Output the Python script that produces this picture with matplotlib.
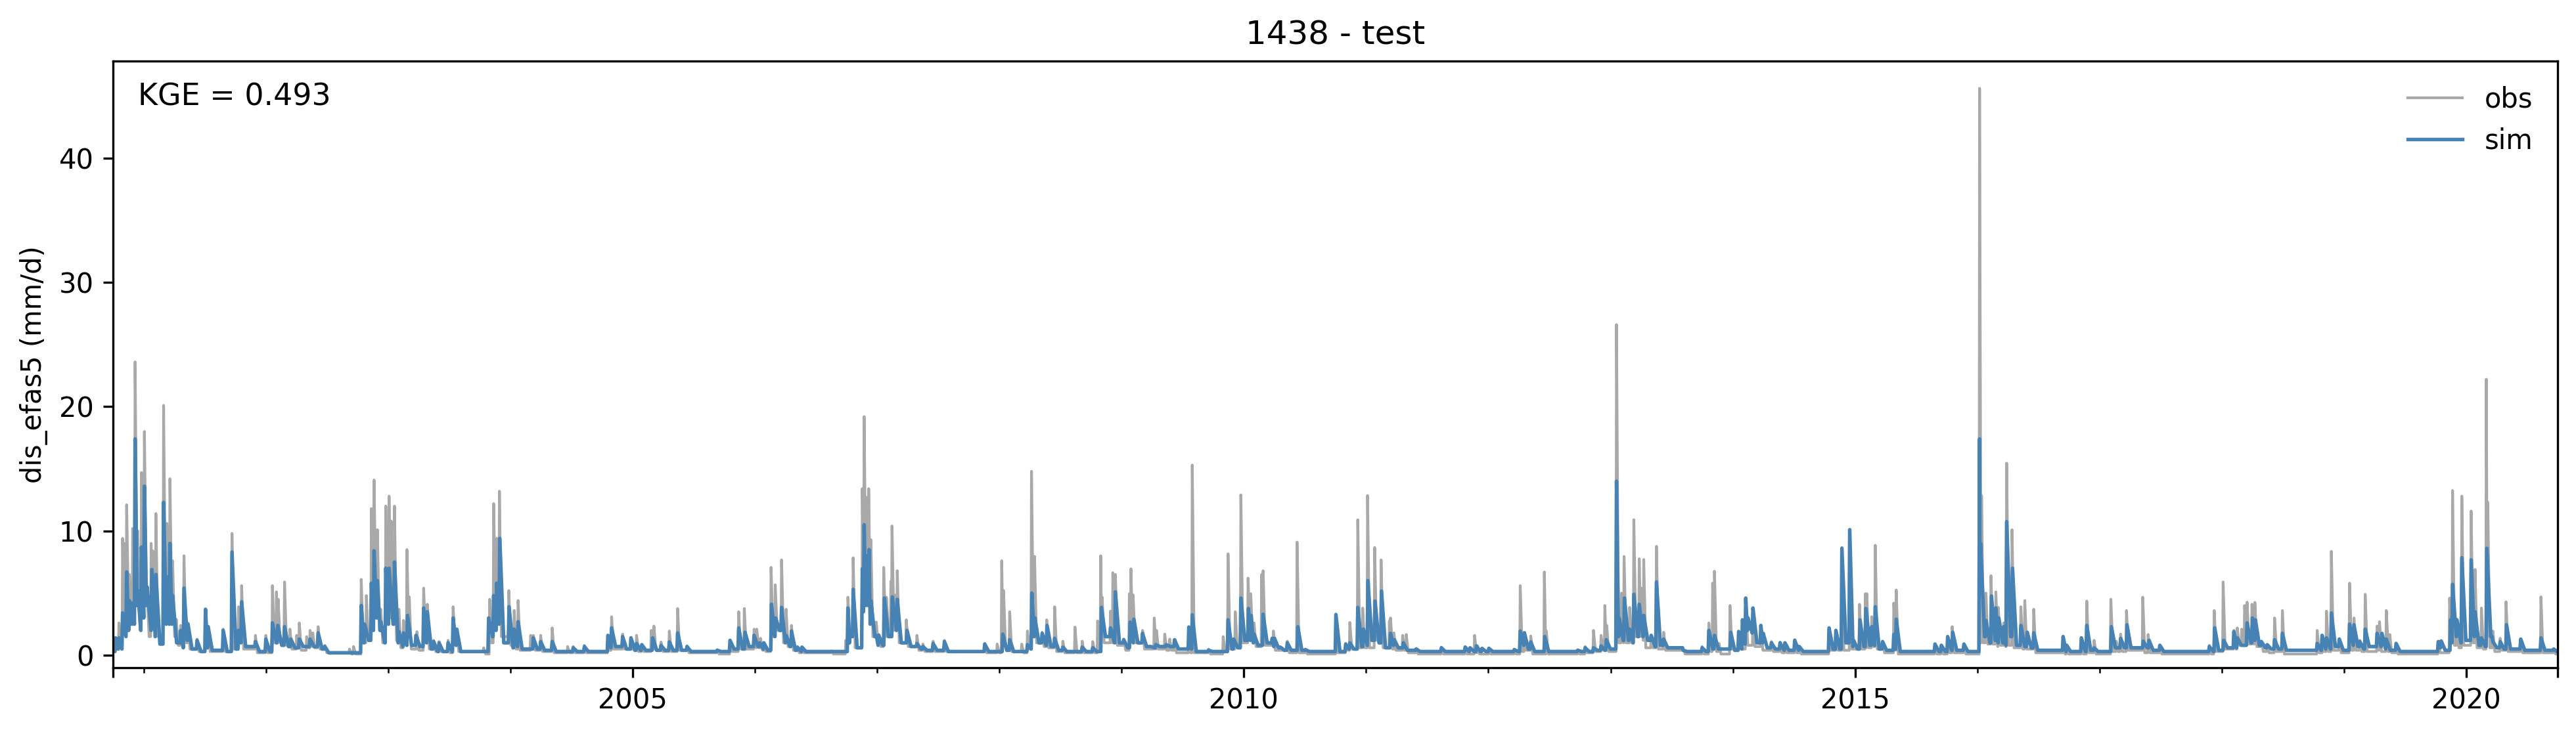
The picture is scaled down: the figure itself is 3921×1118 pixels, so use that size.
import matplotlib
matplotlib.use("Agg")
import matplotlib.pyplot as plt
import matplotlib.dates as mdates
import pandas as pd

# ---- values: time of each flow peak (decimal year), its height, level after it ----
obs_years = [2000.75,2000.77,2000.797,2000.827,2000.841,2000.86,2000.882,2000.909,2000.929,2000.951,2000.981,2001.005,2001.027,2001.06,2001.074,2001.099,2001.162,2001.189,2001.214,2001.236,2001.266,2001.302,2001.329,2001.362,2001.436,2001.505,2001.527,2001.65,2001.722,2001.776,2001.801,2001.914,2001.999,
 2002.053,2002.086,2002.1,2002.152,2002.196,2002.251,2002.273,2002.333,2002.361,2002.383,2002.427,2002.482,2002.684,2002.717,2002.78,2002.822,2002.863,2002.885,2002.912,2002.94,2002.981,2003.008,2003.025,2003.052,2003.088,2003.126,2003.154,2003.173,2003.236,2003.291,2003.321,2003.373,2003.417,2003.491,2003.532,2003.562,2003.782,2003.831,2003.864,2003.889,2003.911,2003.988,2004.032,2004.064,2004.166,2004.188,2004.248,2004.342,2004.468,2004.514,2004.605,2004.797,2004.827,2004.917,
 2005.031,2005.074,2005.151,2005.173,2005.231,2005.299,2005.367,2005.444,2005.691,2005.796,2005.867,2005.913,2005.993,2006.015,2006.046,2006.073,2006.132,2006.166,2006.218,2006.255,2006.299,2006.348,2006.385,2006.626,2006.743,2006.761,2006.804,2006.879,2006.894,2006.912,2006.931,2006.949,2006.993,2007.014,2007.054,2007.076,2007.113,2007.122,2007.144,2007.165,2007.239,2007.326,2007.375,2007.458,2007.551,2007.881,2007.983,2008.02,2008.035,2008.085,2008.183,2008.23,2008.263,2008.288,2008.35,2008.387,2008.452,2008.519,2008.618,2008.677,2008.763,2008.803,2008.828,2008.84,2008.908,2008.927,2008.948,2009.016,2009.062,2009.075,2009.093,2009.17,2009.266,2009.284,2009.352,2009.392,2009.432,2009.549,2009.577,2009.71,
 2009.83,2009.87,2009.929,2009.975,2010.034,2010.056,2010.083,2010.145,2010.157,2010.241,2010.355,2010.435,2010.503,2010.753,2010.833,2010.867,2010.932,2010.972,2011.012,2011.07,2011.123,2011.191,2011.2,2011.228,2011.299,2011.329,2011.41,2011.616,2011.811,2011.888,2011.912,2012.005,2012.212,2012.261,2012.295,2012.347,2012.458,2012.474,2012.73,2012.791,2012.859,2012.921,2012.952,2012.967,2013.047,2013.088,2013.109,2013.155,2013.189,2013.233,2013.251,2013.27,2013.331,2013.374,2013.433,2013.593,2013.748,2013.803,2013.834,2013.849,2013.886,2013.976,2014.047,2014.105,2014.164,2014.229,2014.315,2014.386,2014.426,2014.506,2014.543,
 2014.787,2014.843,2014.892,2014.956,2015.036,2015.084,2015.096,2015.136,2015.165,2015.225,2015.317,2015.337,2015.654,2015.706,2015.758,2015.795,2015.891,2016.019,2016.035,2016.071,2016.112,2016.152,2016.172,2016.216,2016.24,2016.284,2016.356,2016.388,2016.461,2016.701,2016.73,2016.85,2016.894,2016.954,2017.091,2017.135,2017.171,2017.219,2017.352,2017.396,2017.492,2017.897,2017.937,2018.01,2018.098,2018.126,2018.162,2018.186,2018.206,2018.246,2018.27,2018.323,2018.371,2018.431,2018.495,2018.78,2018.824,2018.856,2018.896,2018.961,2019.045,2019.081,2019.129,2019.173,2019.27,2019.29,2019.346,2019.374,2019.426,2019.771,2019.864,2019.888,2019.924,2019.964,2020.04,2020.072,2020.124,2020.164,2020.176,2020.217,2020.277,2020.325,2020.445,2020.61,2020.714,2020.747]
obs_peak = [0.3,1.0,2.6,9.4,9.0,12.1,6.5,10.2,23.6,10.0,14.7,18.0,5.0,9.0,8.4,11.4,20.1,10.6,14.2,7.6,2.9,2.4,8.0,2.6,1.3,3.7,2.3,2.1,9.8,3.9,5.6,1.6,1.6,
 5.6,5.1,4.5,5.9,2.1,1.6,2.6,1.5,2.0,1.8,2.3,0.8,0.5,0.7,6.1,4.8,11.8,14.1,10.1,3.7,12.0,12.8,10.8,12.0,3.7,2.8,8.5,4.7,1.9,5.4,4.1,1.2,1.1,1.2,3.9,2.1,0.6,4.5,12.2,9.4,13.2,5.2,3.6,4.4,1.6,1.6,1.6,2.2,0.7,0.7,0.8,1.6,3.1,1.7,
 1.6,0.85,2.0,2.35,1.07,1.95,3.76,0.76,0.45,1.2,3.5,3.76,2.1,2.1,1.36,1.0,7.07,5.67,7.67,3.7,2.4,0.67,0.67,0.35,1.2,4.67,7.84,13.4,19.2,12.7,13.4,9.3,2.67,1.67,7.07,4.67,5.95,10.4,4.85,6.8,2.85,1.6,0.9,1.13,1.2,0.95,0.9,7.6,5.2,3.5,0.9,1.95,14.8,7.95,1.85,2.85,3.9,1.13,2.27,1.13,1.1,2.76,8.0,4.67,3.55,6.64,6.5,1.3,4.95,6.95,4.85,2.0,3.0,2.0,1.7,1.3,1.2,2.27,15.3,0.5,
 1.5,8.16,3.5,12.9,6.2,4.95,2.6,6.5,6.8,1.95,1.13,9.1,0.5,3.3,0.95,2.64,10.9,3.8,12.85,8.67,7.67,2.76,3.0,1.8,1.6,1.67,0.55,0.65,0.7,1.6,0.75,0.6,0.5,5.6,1.85,1.55,6.7,1.95,0.45,0.7,2.0,1.6,4.0,2.4,26.6,5.0,7.95,3.85,10.9,7.76,5.4,7.7,1.6,8.76,1.85,0.5,0.7,2.6,5.8,6.76,0.95,4.0,1.95,4.6,3.8,2.4,1.1,1.05,1.0,1.25,0.7,
 2.2,2.0,8.67,10.1,4.1,4.95,4.95,3.1,8.85,1.1,4.2,5.25,0.9,0.8,1.5,2.3,0.9,45.6,12.85,5.0,6.4,5.1,3.85,2.6,15.45,10.1,3.9,4.4,3.7,1.5,0.8,1.4,4.36,1.2,4.5,1.13,1.7,3.6,4.67,1.67,0.8,0.8,3.6,5.9,2.0,2.2,2.1,4.0,4.27,4.1,4.25,1.13,0.85,3.0,3.6,2.0,1.6,3.55,8.36,1.3,5.8,3.0,1.2,4.9,2.35,2.7,3.6,1.67,0.95,1.1,4.6,13.25,2.85,12.8,11.6,6.9,3.8,22.2,12.3,1.95,1.36,4.3,1.3,4.7,0.5,0.3]
obs_after = [0.3,0.5,1.2,2.5,3.0,3.0,2.5,3.0,5.0,2.5,5.0,5.0,1.5,3.0,2.0,1.5,3.0,2.5,3.0,1.5,0.8,1.0,1.0,0.5,0.3,0.6,0.3,0.3,0.5,1.5,0.5,0.2,0.2,
 1.0,1.2,1.0,0.8,0.5,0.6,0.4,0.6,0.7,0.6,0.5,0.2,0.1,0.1,1.0,1.2,3.0,3.0,2.0,1.0,3.0,3.0,2.5,1.2,0.6,0.8,1.5,0.5,0.4,1.0,0.5,0.3,0.3,0.2,1.0,0.3,0.1,1.0,2.5,3.0,1.5,0.8,0.5,0.4,0.5,0.4,0.3,0.2,0.2,0.2,0.2,0.4,0.5,0.5,
 0.3,0.3,0.5,0.4,0.3,0.3,0.4,0.2,0.1,0.3,0.5,0.5,0.6,0.6,0.4,0.3,1.5,2.0,1.0,0.7,0.4,0.2,0.2,0.1,0.8,1.5,0.6,5.0,5.0,4.0,3.0,1.5,0.8,0.7,1.5,2.0,2.0,2.0,2.0,1.0,0.7,0.4,0.3,0.3,0.3,0.2,0.2,0.9,0.7,0.3,0.2,0.5,1.5,1.0,0.7,0.6,0.3,0.2,0.2,0.2,0.2,0.5,1.5,1.0,1.0,1.5,0.8,0.4,1.0,1.5,1.0,0.5,0.5,0.5,0.4,0.4,0.2,0.2,0.2,0.1,
 0.3,0.5,0.6,1.0,1.2,1.0,0.7,1.0,0.8,0.4,0.2,0.2,0.1,0.2,0.4,0.5,0.6,0.6,0.6,1.2,0.6,0.6,0.5,0.4,0.4,0.2,0.1,0.1,0.1,0.2,0.1,0.1,0.1,0.3,0.4,0.1,0.1,0.1,0.1,0.2,0.3,0.4,0.5,0.3,1.0,1.0,1.0,1.0,1.5,1.5,1.2,0.6,0.6,0.5,0.4,0.1,0.1,0.3,0.5,0.3,0.1,0.5,0.5,0.8,0.7,0.4,0.3,0.2,0.2,0.2,0.1,
 0.4,0.4,0.4,0.5,0.5,0.6,0.6,0.7,0.5,0.2,0.4,0.1,0.1,0.1,0.2,0.2,0.1,1.0,1.0,0.9,0.9,0.7,0.8,0.7,0.8,0.6,0.5,0.5,0.2,0.1,0.1,0.1,0.2,0.1,0.3,0.3,0.3,0.4,0.2,0.2,0.1,0.1,0.3,0.5,0.5,0.8,0.8,0.8,0.9,0.9,0.7,0.3,0.2,0.3,0.1,0.2,0.3,0.3,0.4,0.2,0.4,0.4,0.3,0.3,0.4,0.3,0.3,0.2,0.1,0.2,1.0,0.8,0.6,0.8,1.0,0.6,0.5,1.5,0.6,0.3,0.4,0.3,0.2,0.2,0.1,0.2]

sim_years = [2000.75,2000.77,2000.797,2000.827,2000.86,2000.882,2000.909,2000.929,2000.951,2000.981,2001.005,2001.027,2001.066,2001.099,2001.162,2001.189,2001.214,2001.236,2001.302,2001.329,2001.362,2001.436,2001.505,2001.527,2001.65,2001.722,2001.776,2001.801,2001.914,2001.999,
 2002.053,2002.097,2002.152,2002.204,2002.273,2002.361,2002.427,2002.482,2002.78,2002.808,2002.863,2002.885,2002.912,2002.94,2002.981,2003.008,2003.052,2003.088,2003.126,2003.159,2003.228,2003.291,2003.321,2003.373,2003.417,2003.491,2003.532,2003.562,2003.823,2003.864,2003.889,2003.914,2003.99,2004.032,2004.064,2004.188,2004.248,2004.342,2004.514,2004.605,2004.797,2004.827,2004.917,2004.985,
 2005.031,2005.074,2005.163,2005.231,2005.299,2005.367,2005.444,2005.691,2005.796,2005.867,2005.919,2005.993,2006.04,2006.073,2006.135,2006.169,2006.218,2006.255,2006.299,2006.348,2006.385,2006.761,2006.78,2006.804,2006.879,2006.894,2006.912,2006.934,2006.949,2006.993,2007.014,2007.06,2007.125,2007.165,2007.245,2007.326,2007.375,2007.458,2007.551,2007.881,2008.029,2008.085,2008.23,2008.266,2008.291,2008.35,2008.39,2008.452,2008.519,2008.677,2008.763,2008.834,2008.908,2008.948,2009.016,2009.068,2009.099,2009.17,2009.238,2009.278,2009.364,2009.432,2009.549,2009.577,2009.71,
 2009.87,2009.917,2009.975,2010.037,2010.059,2010.083,2010.157,2010.231,2010.25,2010.299,2010.355,2010.441,2010.503,2010.753,2010.833,2010.867,2010.932,2010.978,2011.015,2011.073,2011.126,2011.2,2011.231,2011.305,2011.41,2011.616,2011.811,2011.851,2011.903,2011.949,2012.005,2012.212,2012.261,2012.295,2012.347,2012.461,2012.73,2012.791,2012.859,2012.921,2012.964,2013.047,2013.069,2013.112,2013.155,2013.189,2013.233,2013.27,2013.331,2013.374,2013.433,2013.593,2013.748,2013.803,2013.849,2013.982,2014.047,2014.078,2014.105,2014.124,2014.164,2014.229,2014.248,2014.315,2014.386,2014.426,2014.506,2014.543,
 2014.787,2014.843,2014.892,2014.956,2014.988,2015.04,2015.088,2015.136,2015.165,2015.225,2015.317,2015.337,2015.654,2015.706,2015.758,2015.799,2015.891,2016.019,2016.027,2016.071,2016.116,2016.152,2016.176,2016.216,2016.24,2016.288,2016.356,2016.408,2016.461,2016.701,2016.73,2016.85,2016.894,2016.954,2017.095,2017.171,2017.223,2017.356,2017.404,2017.492,2017.897,2017.941,2018.014,2018.098,2018.126,2018.206,2018.25,2018.274,2018.323,2018.371,2018.431,2018.495,2018.78,2018.82,2018.856,2018.896,2018.961,2019.045,2019.081,2019.129,2019.173,2019.27,2019.31,2019.346,2019.426,2019.771,2019.795,2019.872,2019.888,2019.924,2019.964,2020.04,2020.072,2020.124,2020.168,2020.217,2020.277,2020.329,2020.445,2020.61,2020.714,2020.747]
sim_peak = [0.3,1.4,1.4,3.4,6.7,4.4,4.2,17.4,5.2,8.7,13.6,5.5,6.9,6.5,12.3,6.3,9.0,4.8,2.0,5.4,2.5,1.2,3.7,2.3,2.0,8.3,2.0,4.3,1.1,1.3,
 2.6,2.4,2.3,1.3,1.3,1.3,1.8,0.7,4.0,2.5,5.8,8.4,6.0,2.7,7.0,7.0,7.5,1.9,1.8,3.2,1.6,3.8,3.5,1.1,1.0,1.0,3.0,2.1,3.0,4.8,5.8,9.4,3.9,2.1,2.7,1.4,1.1,1.1,0.6,0.7,1.6,2.2,1.5,1.4,
 0.95,0.85,1.4,0.8,1.07,1.8,0.7,0.4,1.2,2.2,1.85,1.6,1.0,1.0,4.1,3.0,3.85,1.6,1.95,0.65,0.65,3.8,2.0,5.3,6.95,10.5,8.0,8.5,4.4,1.6,1.6,4.6,4.7,4.5,2.0,0.95,0.7,0.95,1.1,0.9,1.7,1.25,0.85,5.0,3.0,1.76,2.4,1.36,0.65,0.65,0.6,3.85,2.2,5.1,1.25,2.67,2.9,1.76,0.7,0.85,0.85,1.25,2.27,3.25,0.4,
 2.85,1.3,4.6,3.76,3.2,1.7,3.3,1.36,1.36,0.65,1.0,2.3,0.45,3.27,0.9,1.0,3.85,2.1,6.0,4.36,5.16,1.76,1.25,1.0,0.5,0.6,0.65,0.6,0.75,0.55,0.55,0.45,1.95,1.8,1.07,1.5,0.4,0.6,0.6,0.75,1.25,14.0,3.0,4.6,2.1,4.9,4.1,3.2,1.6,5.9,1.3,0.4,0.6,2.0,1.6,1.85,1.9,2.85,4.6,3.0,3.8,2.4,1.76,1.0,1.0,1.0,1.2,0.7,
 2.2,2.0,8.6,10.1,1.2,2.85,3.76,2.3,3.9,1.1,1.67,2.9,0.9,0.8,1.5,1.85,0.9,17.4,9.0,2.8,4.76,3.8,3.0,2.3,10.75,7.0,2.4,1.85,1.8,1.5,0.8,1.4,2.4,0.6,2.3,1.36,2.45,1.13,1.2,0.8,0.7,2.2,1.2,1.9,1.4,2.6,3.0,2.85,1.1,0.85,1.25,1.76,0.95,1.6,1.4,3.4,1.3,2.5,2.45,1.1,2.1,1.76,1.76,1.3,0.95,1.1,1.15,2.85,5.7,2.85,7.85,7.67,3.5,1.4,8.6,1.1,1.1,2.45,1.3,1.4,0.5,0.3]
sim_after = [0.3,0.5,0.5,1.5,2.0,2.5,2.5,4.0,2.0,3.0,4.0,2.0,1.5,0.9,2.5,2.5,2.5,1.0,0.6,1.2,0.5,0.3,0.6,0.4,0.3,0.5,1.0,0.7,0.3,0.3,
 1.0,0.8,0.7,0.6,0.7,0.7,0.5,0.2,1.0,1.2,2.0,3.0,2.0,1.0,2.5,2.5,1.0,0.7,0.8,0.8,0.7,1.0,0.5,0.3,0.3,0.3,0.8,0.3,1.5,2.0,2.5,1.0,0.6,0.7,0.5,0.5,0.4,0.3,0.3,0.3,0.6,0.7,0.5,0.4,
 0.4,0.4,0.4,0.4,0.4,0.4,0.3,0.3,0.5,0.5,0.7,0.7,0.5,0.4,1.5,2.0,1.0,0.7,0.4,0.3,0.3,1.0,1.5,0.6,3.5,4.0,4.0,2.5,1.5,0.8,0.8,1.5,2.0,1.0,0.7,0.5,0.4,0.4,0.3,0.3,0.4,0.3,0.5,1.5,1.0,0.8,0.7,0.4,0.3,0.3,0.3,1.5,1.0,1.0,0.6,1.0,1.0,0.7,0.6,0.7,0.7,0.5,0.5,0.3,0.3,
 0.5,0.6,1.2,1.2,1.0,0.8,1.0,0.7,0.6,0.4,0.4,0.4,0.3,0.3,0.5,0.5,0.7,0.8,1.2,1.0,0.6,0.8,0.6,0.4,0.3,0.3,0.3,0.3,0.3,0.3,0.3,0.3,0.8,0.5,0.3,0.3,0.3,0.3,0.4,0.4,0.5,1.5,1.2,1.2,1.0,1.5,1.5,1.2,0.7,0.8,0.6,0.3,0.3,0.5,0.5,0.4,0.5,0.9,2.0,1.8,1.0,1.0,0.6,0.5,0.4,0.4,0.4,0.3,
 0.5,0.5,1.0,0.7,0.5,0.7,0.8,0.8,0.5,0.4,0.5,0.3,0.3,0.3,0.4,0.4,0.3,5.0,1.5,1.0,1.2,1.0,1.0,0.8,1.5,0.8,0.7,0.6,0.4,0.3,0.3,0.3,0.4,0.3,0.6,0.6,0.6,0.6,0.4,0.3,0.3,0.4,0.6,0.6,0.8,1.0,1.2,0.8,0.6,0.5,0.5,0.4,0.4,0.5,0.5,0.7,0.4,0.8,0.7,0.5,0.7,0.7,0.5,0.4,0.3,0.6,0.4,1.0,1.5,1.0,1.2,1.5,0.8,0.7,1.5,0.6,0.5,0.5,0.4,0.4,0.3,0.3]

year_ticks = [2005, 2010, 2015, 2020]
start_date = "2000-10-01"
end_date = "2020-09-30"
title_text = "1438 - test"
y_label = "dis_efas5 (mm/d)"
kge_text = "KGE = 0.493"


def to_num(y):
    yr = int(y)
    a = mdates.date2num(pd.Timestamp(yr, 1, 1))
    b = mdates.date2num(pd.Timestamp(yr + 1, 1, 1))
    return a + (y - yr) * (b - a)


def hydrograph(years, peak, after, rise, fall):
    ts = [to_num(y) for y in years]
    xs, ys = [], []
    prev_after = peak[0]
    for i, (t, p, a) in enumerate(zip(ts, peak, after, strict=True)):
        if not xs or t - rise > xs[-1]:
            xs.append(t - rise)
            ys.append(prev_after)
        xs.append(t)
        ys.append(p)
        nxt = ts[i + 1] - rise if i + 1 < len(ts) else t + fall
        end = min(t + fall, nxt)
        if end > t:
            xs.append(end)
            ys.append(a)
        prev_after = a
    return xs, ys


W, H = 3921, 1118
fig = plt.figure(figsize=(W / 300, H / 300), dpi=300)
ax = fig.add_axes([172 / W, (H - 1017) / H, (3893 - 172) / W, (1017 - 93) / H])

ox, oy = hydrograph(obs_years, obs_peak, obs_after, 1.5, 6)
sx, sy = hydrograph(sim_years, sim_peak, sim_after, 2, 12)
ax.plot(ox, oy, color="darkgrey", lw=1.0, label="obs")
ax.plot(sx, sy, color="steelblue", lw=1.3, label="sim")

x0, x1 = mdates.date2num(pd.Timestamp(start_date)), mdates.date2num(pd.Timestamp(end_date))
ax.set_xlim(x0, x1)
ax.set_ylim(-1.0, 47.8)

major = [x0] + [mdates.date2num(pd.Timestamp(y, 1, 1)) for y in year_ticks] + [x1]
ax.set_xticks(major)
ax.set_xticklabels([""] + [str(y) for y in year_ticks] + [""])
ax.set_xticks([mdates.date2num(pd.Timestamp(y, 1, 1)) for y in range(2001, 2021) if y not in year_ticks], minor=True)
ax.set_yticks([0, 10, 20, 30, 40])

ax.set_title(title_text, fontsize=12)
ax.set_ylabel(y_label)
ax.text(0.0102, 0.94, kge_text, transform=ax.transAxes, fontsize=11, va="center", ha="left")
ax.legend(loc="upper right", frameon=False)

fig.savefig("out.png", dpi=300)
